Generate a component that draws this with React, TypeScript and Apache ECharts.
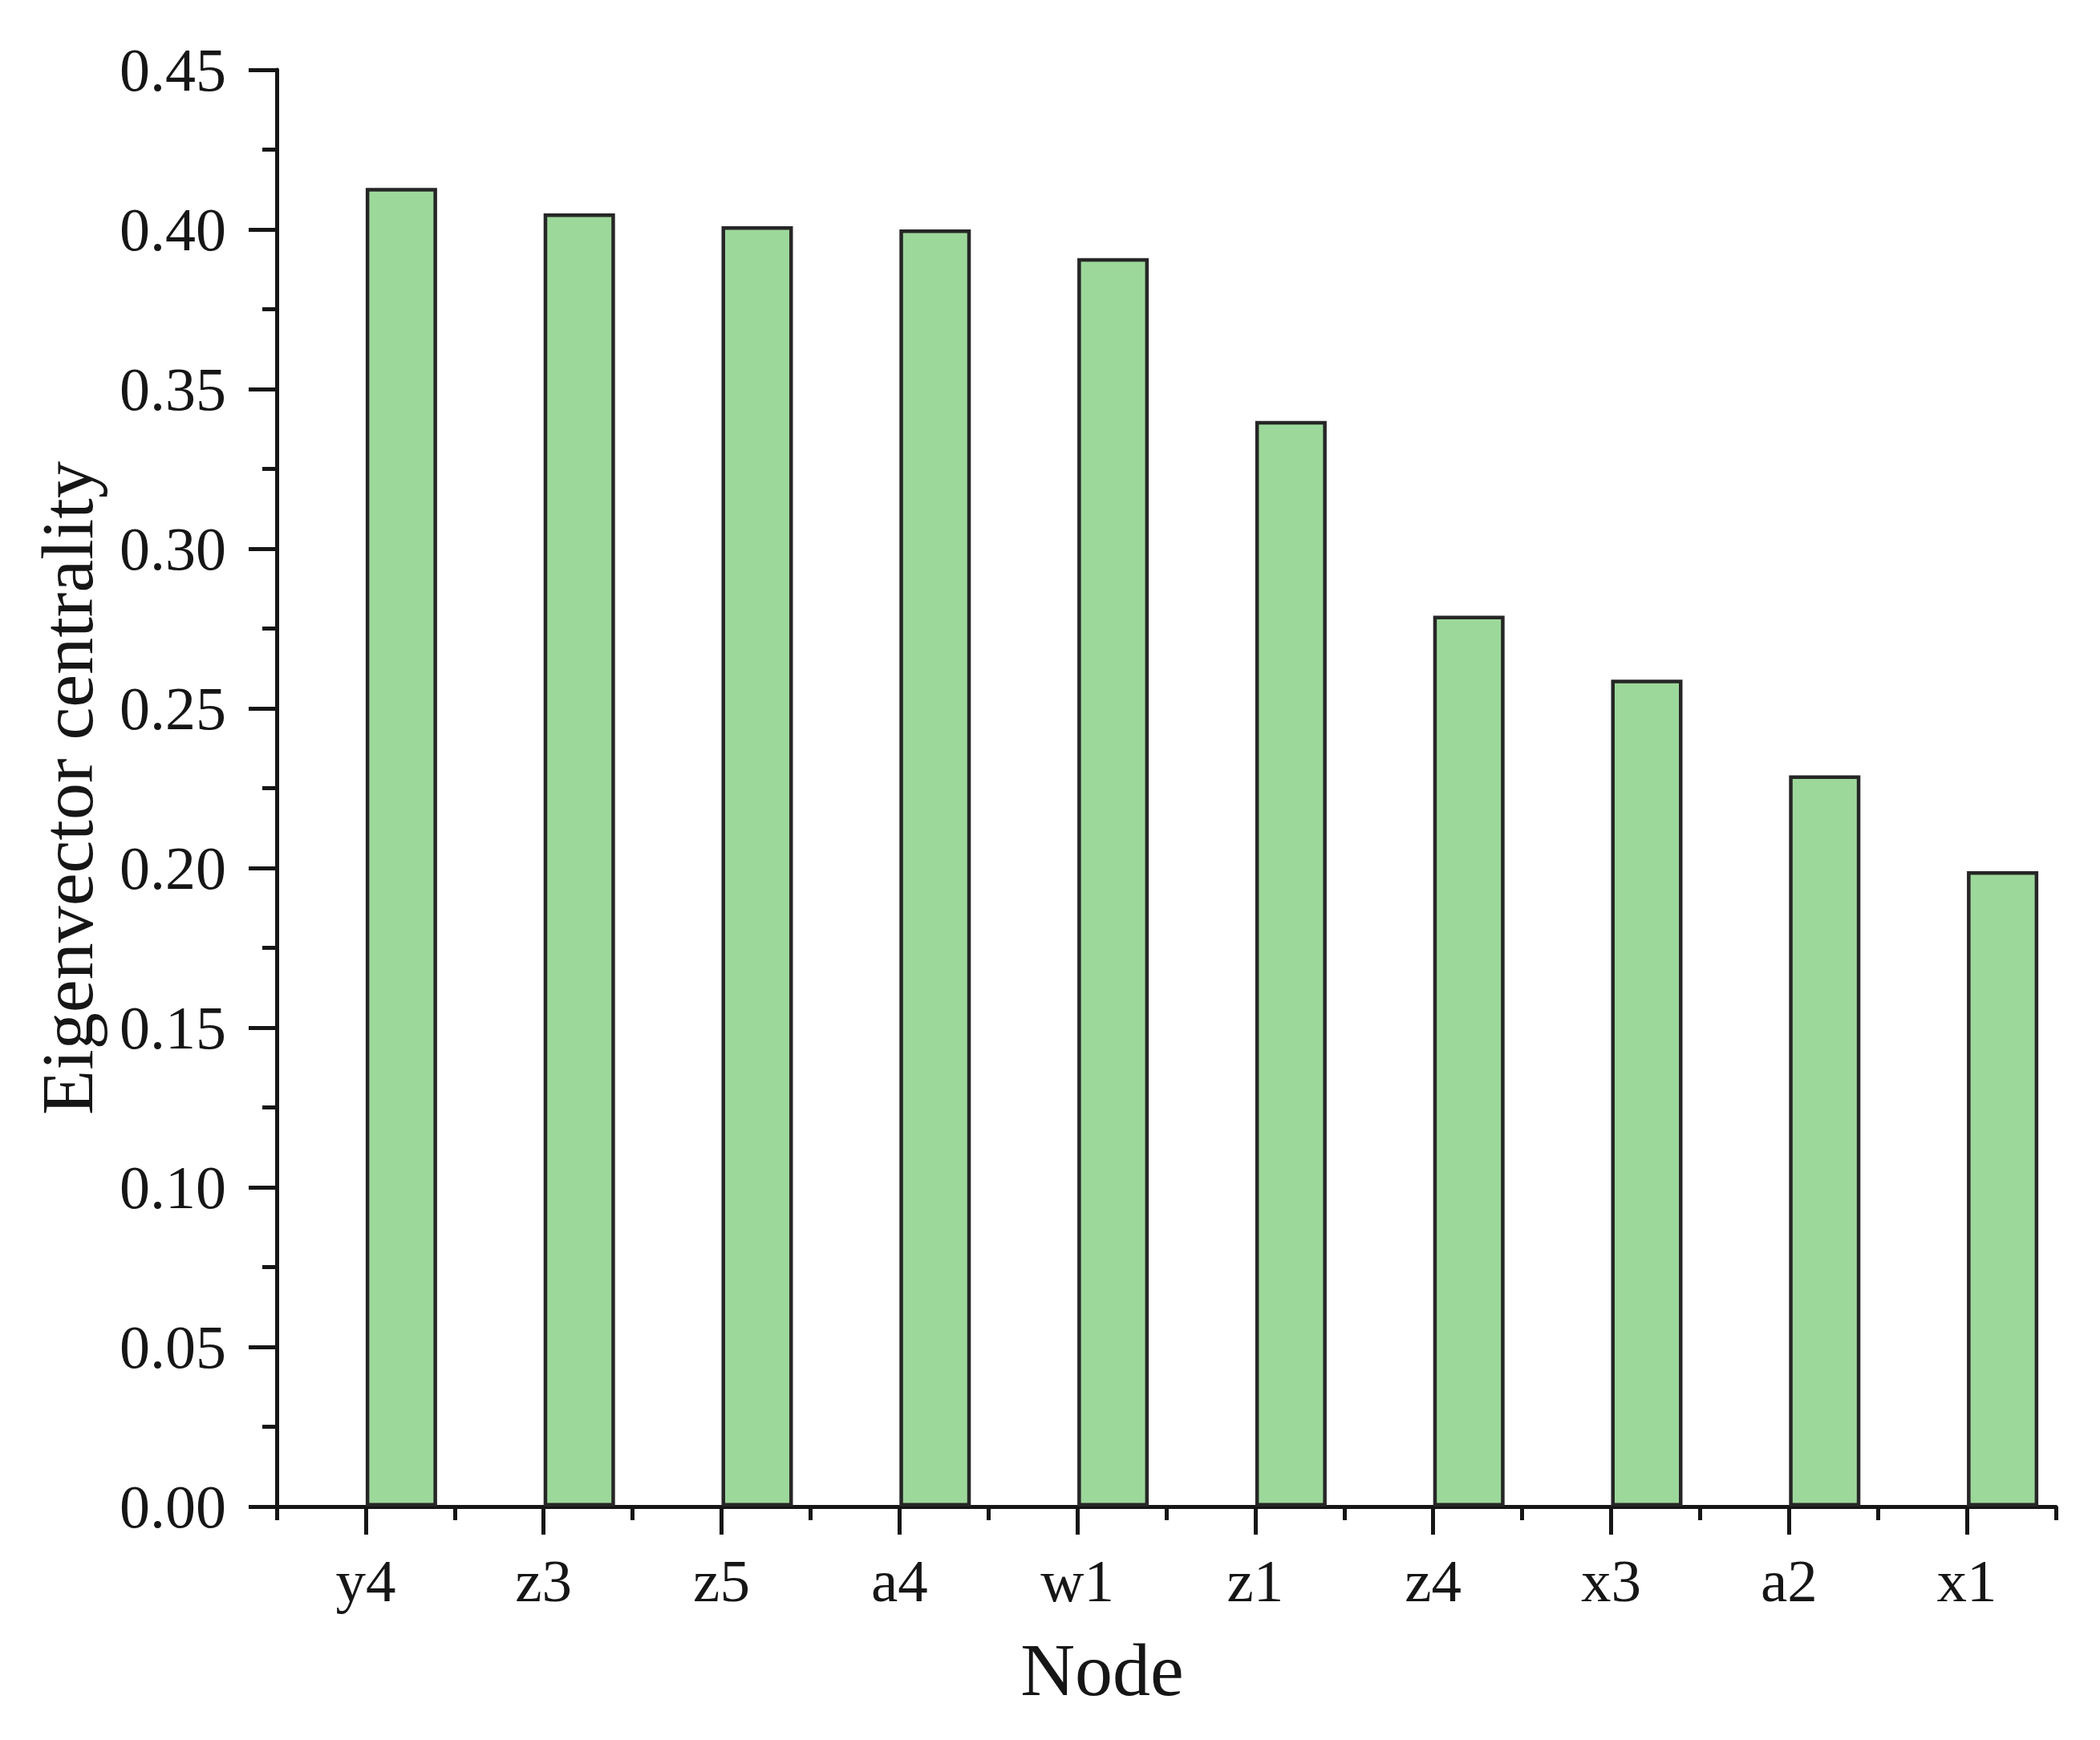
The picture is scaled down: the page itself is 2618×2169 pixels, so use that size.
import React, { useEffect, useRef } from "react";
import * as echarts from "echarts";

const nodes = ["y4", "z3", "z5", "a4", "w1", "z1", "z4", "x3", "a2", "x1"];
const centrality = [0.413, 0.405, 0.401, 0.4, 0.391, 0.34, 0.279, 0.259, 0.229, 0.199];
const padding = nodes.map(() => null);

const FONT = "Liberation Serif";
const INK = "#161616";

export default function App() {
  const ref = useRef<HTMLDivElement>(null);
  useEffect(() => {
    if (!ref.current) return;
    const chart = echarts.init(ref.current, undefined, { renderer: "svg" });
    chart.setOption({
      animation: false,
      backgroundColor: "#ffffff",
      textStyle: { fontFamily: FONT, color: INK },
      grid: { left: 345, top: 87, width: 2218, height: 1791, containLabel: false },
      xAxis: [
        {
          type: "category",
          data: nodes,
          position: "bottom",
          axisLine: { show: true, lineStyle: { color: INK, width: 5 } },
          axisTick: { show: true, alignWithLabel: true, length: 35, lineStyle: { color: INK, width: 5 } },
          axisLabel: { fontFamily: FONT, fontSize: 75, color: INK, margin: 55 },
          splitLine: { show: false },
          name: "Node",
          nameLocation: "middle",
          nameGap: 156,
          nameTextStyle: { fontFamily: FONT, fontSize: 94, color: INK, padding: [0, 160, 0, 0] },
        },
        {
          type: "category",
          data: nodes,
          position: "bottom",
          axisLine: { show: false },
          axisTick: { show: true, alignWithLabel: false, length: 17, lineStyle: { color: INK, width: 5 } },
          axisLabel: { show: false },
          splitLine: { show: false },
        },
      ],
      yAxis: {
        type: "value",
        min: 0,
        max: 0.45,
        interval: 0.05,
        axisLine: { show: true, lineStyle: { color: INK, width: 5 } },
        axisTick: { show: true, length: 35, lineStyle: { color: INK, width: 5 } },
        minorTick: { show: true, splitNumber: 2, length: 18, lineStyle: { color: INK, width: 5 } },
        splitLine: { show: false },
        axisLabel: {
          fontFamily: FONT,
          fontSize: 76,
          color: INK,
          margin: 63,
          formatter: (v: number) => v.toFixed(2),
        },
        name: "Eigenvector centrality",
        nameLocation: "middle",
        nameGap: 215,
        nameTextStyle: { fontFamily: FONT, fontSize: 92, color: INK },
      },
      series: [
        {
          type: "bar",
          name: "pad",
          xAxisIndex: 0,
          data: padding,
          barWidth: 89,
          barGap: "0%",
          itemStyle: { color: "transparent" },
          silent: true,
        },
        {
          type: "bar",
          name: "Eigenvector centrality",
          xAxisIndex: 0,
          data: centrality,
          barWidth: 89,
          barGap: "0%",
          itemStyle: { color: "#9dd89b", borderColor: "#262626", borderWidth: 4.5 },
        },
      ],
    });
    return () => chart.dispose();
  }, []);
  return (
    <div
      ref={ref}
      style={{ position: "fixed", left: 0, top: 0, width: 2618, height: 2169, background: "#fff" }}
    />
  );
}
